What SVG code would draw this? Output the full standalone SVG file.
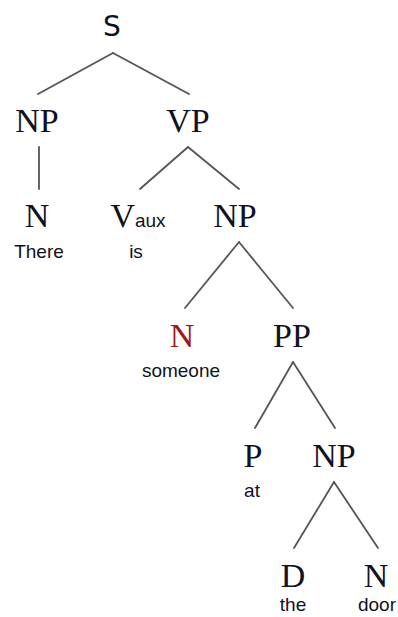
<svg xmlns="http://www.w3.org/2000/svg" width="398" height="617" viewBox="0 0 398 617">
<style>
.cat{font-family:"Liberation Serif","Times New Roman",serif;font-size:34px;fill:#111122;text-anchor:middle}
.red{fill:#a01818}
.word{font-family:"Liberation Sans",Arial,sans-serif;font-size:19px;fill:#111122;text-anchor:middle}
.s{font-family:"DejaVu Sans","Liberation Sans",sans-serif;font-size:28px;fill:#111122;text-anchor:middle}
.edge{stroke:#555;stroke-width:1.8;fill:none;stroke-linecap:round}
</style>
<rect width="398" height="617" fill="#fff"/>
<g id="connectors">
<line class="edge" x1="113" y1="53" x2="38" y2="94"/>
<line class="edge" x1="113" y1="53" x2="189" y2="94"/>
<line class="edge" x1="39" y1="147" x2="39" y2="189"/>
<line class="edge" x1="188" y1="147" x2="140" y2="189"/>
<line class="edge" x1="188" y1="147" x2="239" y2="189"/>
<line class="edge" x1="239" y1="242" x2="185" y2="308"/>
<line class="edge" x1="239" y1="242" x2="293" y2="308"/>
<line class="edge" x1="293" y1="362" x2="255" y2="428"/>
<line class="edge" x1="293" y1="362" x2="335" y2="428"/>
<line class="edge" x1="334" y1="482" x2="294" y2="548"/>
<line class="edge" x1="334" y1="482" x2="378" y2="548"/>
</g>
<g id="S"><text class="s" x="112" y="36">S</text></g>
<g id="NP1"><text class="cat" x="37" y="132">NP</text></g>
<g id="VP"><text class="cat" x="188" y="132">VP</text></g>
<g id="N1"><text class="cat" x="37" y="227">N</text><text class="word" x="39" y="258">There</text></g>
<g id="Vaux"><text x="138" y="227" text-anchor="middle"><tspan font-family="Liberation Serif,serif" font-size="34" fill="#111122">V</tspan><tspan font-family="Liberation Sans,sans-serif" font-size="19" fill="#111122">aux</tspan></text><text class="word" x="136" y="258">is</text></g>
<g id="NP2"><text class="cat" x="235" y="227">NP</text></g>
<g id="N2"><text class="cat red" x="182" y="347">N</text><text class="word" x="181" y="377">someone</text></g>
<g id="PP"><text class="cat" x="292" y="347">PP</text></g>
<g id="P"><text class="cat" x="253" y="467">P</text><text class="word" x="252" y="497">at</text></g>
<g id="NP3"><text class="cat" x="334" y="467">NP</text></g>
<g id="D"><text class="cat" x="293" y="587">D</text><text class="word" x="293" y="611">the</text></g>
<g id="N3"><text class="cat" x="376" y="587">N</text><text class="word" x="377" y="611">door</text></g>
</svg>
